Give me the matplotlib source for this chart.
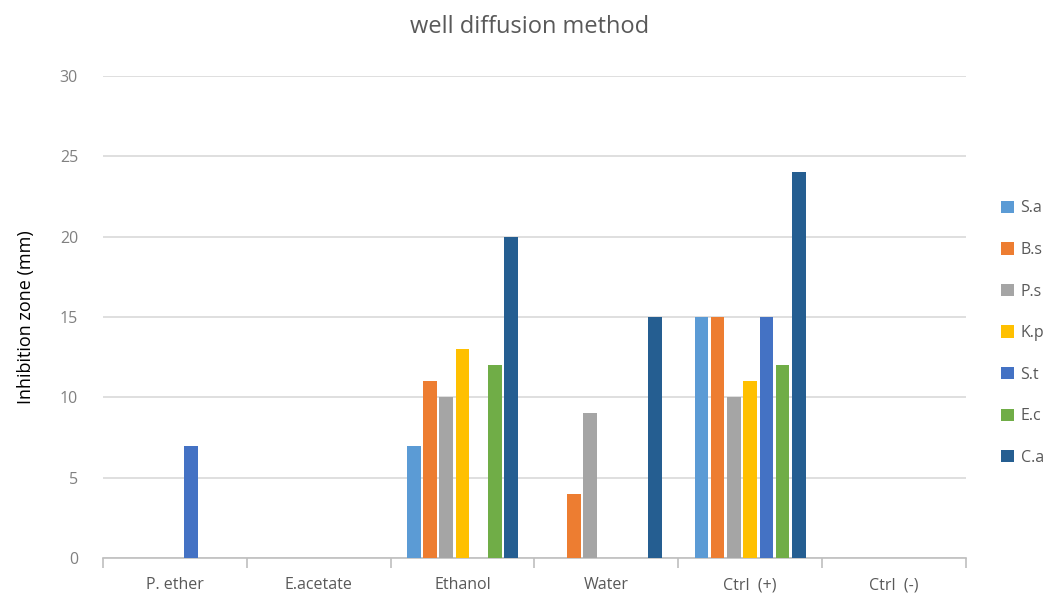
import numpy as np
import matplotlib
matplotlib.use("Agg")
import matplotlib.pyplot as plt

categories = ["P. ether", "E.acetate", "Ethanol", "Water", "Ctrl  (+)", "Ctrl  (-)"]
series_names = ["S.a", "B.s", "P.s", "K.p", "S.t", "E.c", "C.a"]
s_a = [0, 0, 7, 0, 15, 0]
b_s = [0, 0, 11, 4, 15, 0]
p_s = [0, 0, 10, 9, 10, 0]
k_p = [0, 0, 13, 0, 11, 0]
s_t = [7, 0, 0, 0, 15, 0]
e_c = [0, 0, 12, 0, 12, 0]
c_a = [0, 0, 20, 15, 24, 0]
colors = ["#5B9BD5", "#ED7D31", "#A5A5A5", "#FFC000", "#4472C4", "#70AD47", "#255E91"]

plt.rcParams["font.family"] = ["Open Sans", "DejaVu Sans"]

fig = plt.figure(figsize=(10.59, 5.98), dpi=100)
ax = fig.add_axes([0.0973, 0.0669, 0.8147, 0.806])

values = [s_a, b_s, p_s, k_p, s_t, e_c, c_a]
x = np.arange(len(categories))
n = len(values)
step = 0.113
bar_w = 0.095
for i, (name, vals) in enumerate(zip(series_names, values)):
    ax.bar(x + (i - (n - 1) / 2) * step, vals, width=bar_w, color=colors[i], label=name, zorder=3)

ax.set_xlim(-0.5, len(categories) - 0.5)
ax.set_ylim(0, 30)
ax.set_yticks(range(0, 31, 5))
ax.grid(axis="y", color="#D9D9D9", linewidth=1.2, zorder=0)
ax.set_axisbelow(True)

for side in ["top", "right", "left"]:
    ax.spines[side].set_visible(False)
ax.spines["bottom"].set_color("#BFBFBF")
ax.spines["bottom"].set_linewidth(1.2)

ax.set_xticks(x)
ax.set_xticklabels(categories)
ax.set_xticks(np.arange(-0.5, len(categories), 1), minor=True)
ax.tick_params(axis="x", which="major", length=0, pad=14, labelsize=11.5, labelcolor="#595959")
ax.tick_params(axis="x", which="minor", length=7, color="#BFBFBF", width=1.2)
ax.tick_params(axis="y", length=0, pad=18, labelsize=11.5, labelcolor="#808080")

ax.set_ylabel("Inhibition zone (mm)", fontsize=13, color="black", labelpad=18)
fig.suptitle("well diffusion method", y=0.975, fontsize=17, color="#595959")

fig.legend(loc="center left", bbox_to_anchor=(0.932, 0.443), frameon=False,
           handlelength=0.8, handleheight=0.8, handletextpad=0.4,
           labelspacing=1.6, fontsize=11.5, labelcolor="#595959")

fig.savefig("out.png", dpi=100)
